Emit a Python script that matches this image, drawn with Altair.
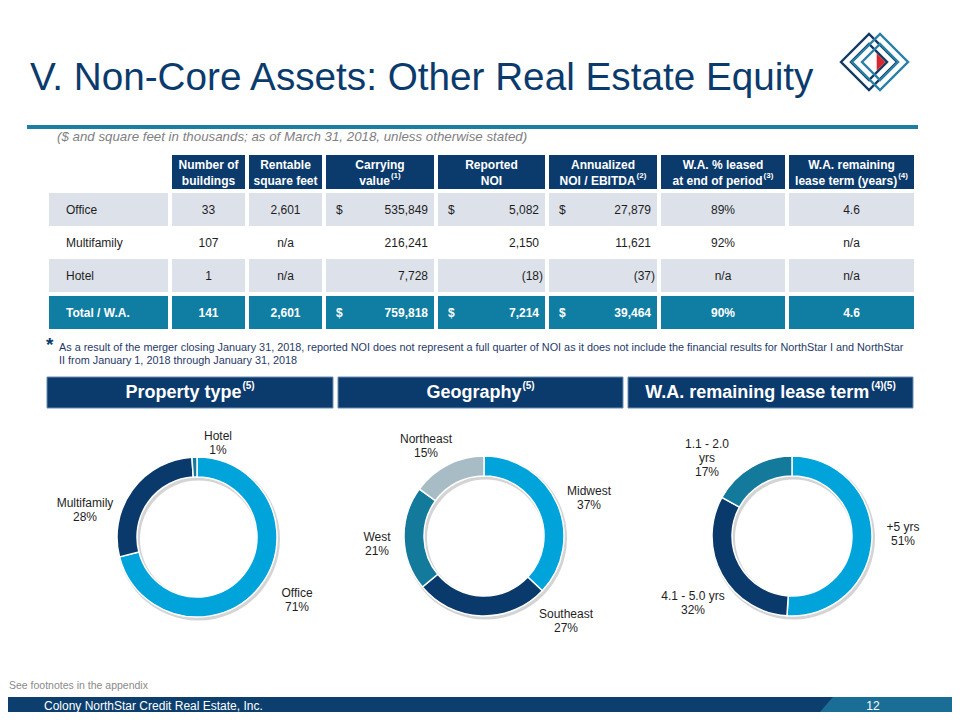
import math
import altair as alt
import pandas as pd

# ------------------------------------------------------------------ data
title = "V. Non-Core Assets: Other Real Estate Equity"
subtitle = "($ and square feet in thousands; as of March 31, 2018, unless otherwise stated)"

row_labels = ["Office", "Multifamily", "Hotel", "Total / W.A."]
buildings = [33, 107, 1, 141]
rentable_sqft = [2601, None, None, 2601]
carrying_value = [535849, 216241, 7728, 759818]
reported_noi = [5082, 2150, -18, 7214]
annualized_noi = [27879, 11621, -37, 39464]
pct_leased = [89, 92, None, 90]
lease_term = [4.6, None, None, 4.6]
dollar_rows = [True, False, False, True]

header_line1 = ["Number of", "Rentable", "Carrying", "Reported", "Annualized", "W.A. % leased", "W.A. remaining"]
header_line2 = ["buildings", "square feet", "value", "NOI", "NOI / EBITDA", "at end of period", "lease term (years)"]
header_notes = ["", "", "(1)", "", "(2)", "(3)", "(4)"]

footnote_lines = [
    "As a result of the merger closing January 31, 2018, reported NOI does not represent a full quarter of NOI as it does not include the financial results for NorthStar I and NorthStar",
    "II from January 1, 2018 through January 31, 2018",
]

section_titles = ["Property type", "Geography", "W.A. remaining lease term"]
section_notes = ["(5)", "(5)", "(4)(5)"]

property_types = ["Office", "Multifamily", "Hotel"]
property_pct = [71, 28, 1]
geo_regions = ["Midwest", "Southeast", "West", "Northeast"]
geo_pct = [37, 27, 21, 15]
term_buckets = ["+5 yrs", "4.1 - 5.0 yrs", "1.1 - 2.0 yrs"]
term_pct = [51, 32, 17]

source_note = "See footnotes in the appendix"
company = "Colony NorthStar Credit Real Estate, Inc."
page_number = "12"

# ------------------------------------------------------------------ style / layout
FONT = "Liberation Sans"
NAVY = "#0b3b6c"
HEAD = "#0b3a6d"
TEAL = "#0f7ea2"
GRAY_ROW = "#dde2ea"
DARK = "#1e1e1e"
donut_colors = {
    "Office": "#00a3da", "Multifamily": "#0a3a6b", "Hotel": "#137a9c",
    "Midwest": "#00a3da", "Southeast": "#0a3a6b", "West": "#137a9c", "Northeast": "#a8bcc6",
    "+5 yrs": "#00a3da", "4.1 - 5.0 yrs": "#0a3a6b", "1.1 - 2.0 yrs": "#137a9c",
}

W, H = 944, 704
XS = alt.Scale(domain=[8, 952], nice=False, zero=False)
YS = alt.Scale(domain=[712, 8], nice=False, zero=False)

BOLD = {" ": 278, "(": 333, ")": 333, ",": 278, "-": 333, ".": 278, "/": 278, "%": 889, "$": 556,
        "A": 722, "B": 722, "C": 722, "D": 722, "E": 667, "F": 611, "G": 778, "H": 722, "I": 278,
        "N": 722, "O": 778, "P": 667, "R": 722, "S": 667, "T": 611, "W": 944,
        "a": 556, "b": 611, "c": 556, "d": 611, "e": 556, "f": 333, "g": 611, "h": 611, "i": 278,
        "l": 278, "m": 889, "n": 611, "o": 611, "p": 611, "q": 611, "r": 389, "s": 556, "t": 333,
        "u": 611, "v": 556, "y": 556}


def bw(s, size):
    return sum(BOLD.get(c, 556) for c in s) / 1000.0 * size


def xq(f="x"):
    return alt.X(f"{f}:Q", scale=XS, axis=None)


def yq(f="y"):
    return alt.Y(f"{f}:Q", scale=YS, axis=None)


def texts(rows, align="left", size=12, weight="normal", color=DARK, style="normal", baseline="middle"):
    df = pd.DataFrame(rows, columns=["x", "y", "t"])
    return alt.Chart(df).mark_text(align=align, baseline=baseline, fontSize=size, fontWeight=weight,
                                   color=color, fontStyle=style, font=FONT).encode(
        x=xq(), y=yq(), text="t:N")


def rects(rows, color, stroke=None, sw=0):
    df = pd.DataFrame(rows, columns=["x", "x2", "y", "y2"])
    kw = dict(color=color)
    if stroke:
        kw.update(stroke=stroke, strokeWidth=sw)
    return alt.Chart(df).mark_rect(**kw).encode(x=xq(), x2="x2:Q", y=yq(), y2="y2:Q")


def diamonds(cx, cy, sizes, color):
    df = pd.DataFrame({"x": [cx] * len(sizes), "y": [cy] * len(sizes), "s": sizes})
    return alt.Chart(df).mark_point(shape="diamond", filled=False, strokeWidth=2.4, opacity=1,
                                    color=color).encode(
        x=xq(), y=yq(), size=alt.Size("s:Q", scale=None, legend=None))


layers = []

# title + rule + subtitle
layers.append(texts([(30, 90, title)], size=38.7, color=NAVY, baseline="alphabetic"))
layers.append(rects([(27, 918, 125, 129)], "#1a7fa0"))
layers.append(texts([(57, 137, subtitle)], size=13.3, color="#7f7f7f", style="italic"))

# logo
layers.append(diamonds(869, 62, [3136, 1300], "#123a63"))
layers.append(diamonds(880, 62, [3136, 1300], "#2a7fa6"))
layers.append(alt.Chart(pd.DataFrame({"x": [881], "y": [62]})).mark_point(
    shape="M-0.5,-1L0.5,0L-0.5,1Z", filled=True, size=300, color="#d7272f", opacity=1).encode(x=xq(), y=yq()))

# ------------------------------------------------------------------ table
label_col = (49, 168)
cols = [(172, 245), (249, 322), (326, 434), (438, 545), (549, 657), (661, 785), (789, 914)]
header_y = (155, 189)
row_y = [(193, 226), (226, 259), (259, 292), (296, 329)]
shaded_rows = [0, 2]

head_rects = [(a, b, header_y[0], header_y[1]) for a, b in cols]
layers.append(rects(head_rects, HEAD))
gray_rects, teal_rects = [], []
for i, (y0, y1) in enumerate(row_y):
    cells = [label_col] + cols
    if i in shaded_rows:
        gray_rects += [(a, b, y0, y1) for a, b in cells]
    if i == len(row_y) - 1:
        teal_rects += [(a, b, y0, y1) for a, b in cells]
layers.append(rects(gray_rects, GRAY_ROW))
layers.append(rects(teal_rects, TEAL))

# header texts
h_center, h_left, h_sup = [], [], []
for (a, b), l1, l2, note in zip(cols, header_line1, header_line2, header_notes):
    c = (a + b) / 2
    h_center.append((c, 165, l1))
    if note:
        w1, w2 = bw(l2, 12), bw(note, 8)
        start = c - (w1 + w2 + 1) / 2
        h_left.append((start, 181, l2))
        h_sup.append((start + w1 + 1, 176, note))
    else:
        h_center.append((c, 181, l2))
layers.append(texts(h_center, align="center", weight="bold", color="white"))
layers.append(texts(h_left, align="left", weight="bold", color="white"))
layers.append(texts(h_sup, align="left", size=8, weight="bold", color="white"))


def acct(v):
    return f"({abs(v):,})" if v < 0 else f"{v:,}"


def na(v, fmt):
    return "n/a" if v is None else fmt(v)


reg_left, reg_center, reg_right = [], [], []
b_left, b_center, b_right = [], [], []
money_cols = [(cols[2], carrying_value), (cols[3], reported_noi), (cols[4], annualized_noi)]
for i, (y0, y1) in enumerate(row_y):
    cy = (y0 + y1) / 2
    total = i == len(row_y) - 1
    L, C, R = (b_left, b_center, b_right) if total else (reg_left, reg_center, reg_right)
    L.append((66, cy, row_labels[i]))
    C.append(((cols[0][0] + cols[0][1]) / 2, cy, str(buildings[i])))
    C.append(((cols[1][0] + cols[1][1]) / 2, cy, na(rentable_sqft[i], lambda v: f"{v:,}")))
    C.append(((cols[5][0] + cols[5][1]) / 2, cy, na(pct_leased[i], lambda v: f"{v}%")))
    C.append(((cols[6][0] + cols[6][1]) / 2, cy, na(lease_term[i], lambda v: f"{v:.1f}")))
    for (a, b), series in money_cols:
        v = series[i]
        if dollar_rows[i]:
            L.append((a + 10, cy, "$"))
        R.append((b - 2 if v < 0 else b - 6, cy, acct(v)))

layers.append(texts(reg_left))
layers.append(texts(reg_center, align="center"))
layers.append(texts(reg_right, align="right"))
layers.append(texts(b_left, weight="bold", color="white"))
layers.append(texts(b_center, align="center", weight="bold", color="white"))
layers.append(texts(b_right, align="right", weight="bold", color="white"))

# footnote
layers.append(texts([(46, 351, "*")], size=19, weight="bold", color=NAVY, baseline="alphabetic"))
layers.append(texts([(59, 348, footnote_lines[0]), (59, 361, footnote_lines[1])], size=10.85, color="#1f3a68"))

# ------------------------------------------------------------------ section bars
bars_x = [(47, 333), (338, 623), (628, 913)]
bars_y = (377, 408)
layers.append(rects([(a, b, bars_y[0], bars_y[1]) for a, b in bars_x], HEAD, stroke="#6a8db3", sw=1))
sec_main, sec_sup = [], []
for (a, b), t, n in zip(bars_x, section_titles, section_notes):
    c = (a + b) / 2
    w1, w2 = bw(t, 18), bw(n, 10)
    start = c - (w1 + w2 + 1) / 2
    sec_main.append((start, 393, t))
    sec_sup.append((start + w1 + 1, 386, n))
layers.append(texts(sec_main, size=18, weight="bold", color="white"))
layers.append(texts(sec_sup, size=10, weight="bold", color="white"))

# ------------------------------------------------------------------ donuts
R_OUT, R_IN = 80, 60
donut_specs = [
    (property_types, property_pct, (197, 537),
     [(297, 593), (85, 503), (218, 436)]),
    (geo_regions, geo_pct, (484, 536),
     [(589, 491), (566, 614), (377, 537), (426, 439)]),
    (term_buckets, term_pct, (792, 536),
     [(903, 527), (693, 596), (707, 444)]),
]
wrap = {"1.1 - 2.0 yrs": ["1.1 - 2.0", "yrs"]}
all_keys = property_types + geo_regions + term_buckets
color_scale = alt.Scale(domain=all_keys, range=[donut_colors[k] for k in all_keys])

label_rows = []
for labels, vals, (cx, cy), lpos in donut_specs:
    shadow = pd.DataFrame({"x": [cx + 1.5], "y": [cy + 2]})
    layers.append(alt.Chart(shadow).mark_arc(radius=R_OUT + 1.5, radius2=R_IN - 1.5, theta=0, theta2=2 * math.pi,
                                              color="#d4d4d4").encode(x=xq(), y=yq()))
    df = pd.DataFrame({"k": labels, "v": vals, "o": list(range(len(labels))),
                       "x": [cx] * len(labels), "y": [cy] * len(labels)})
    layers.append(alt.Chart(df).mark_arc(radius=R_OUT, radius2=R_IN, stroke="white", strokeWidth=1.5).encode(
        x=xq(), y=yq(),
        theta=alt.Theta("v:Q", stack=True, scale=alt.Scale(domain=[0, 100])),
        order=alt.Order("o:Q"),
        color=alt.Color("k:N", scale=color_scale, legend=None)))
    for k, v, (lx, ly) in zip(labels, vals, lpos):
        lines = wrap.get(k, [k]) + [f"{v}%"]
        for j, s in enumerate(lines):
            label_rows.append((lx, ly + j * 14, s))
layers.append(texts(label_rows, align="center", size=12, color=DARK))

# ------------------------------------------------------------------ footer
layers.append(texts([(9, 686, source_note)], size=10.5, color="#8a8a8a"))
layers.append(rects([(8, 952, 697, 712)], "#0d3f6e"))
foot_df = pd.DataFrame({"x": [813, 833, 952], "y": [720, 697, 697], "y2": [720, 720, 720]})
layers.append(alt.Chart(foot_df).mark_area(color="#1a6e96").encode(x=xq(), y=yq(), y2="y2:Q"))
layers.append(texts([(44, 705.5, company)], size=12, color="white"))
layers.append(texts([(873, 705.5, page_number)], align="center", size=12, color="white"))

chart = alt.layer(*layers).properties(
    width=W, height=H, padding=0, background="white",
    autosize=alt.AutoSizeParams(type="none"),
).configure_view(stroke=None)

chart.save("out.html", embed_options={"renderer": "svg", "actions": False})
